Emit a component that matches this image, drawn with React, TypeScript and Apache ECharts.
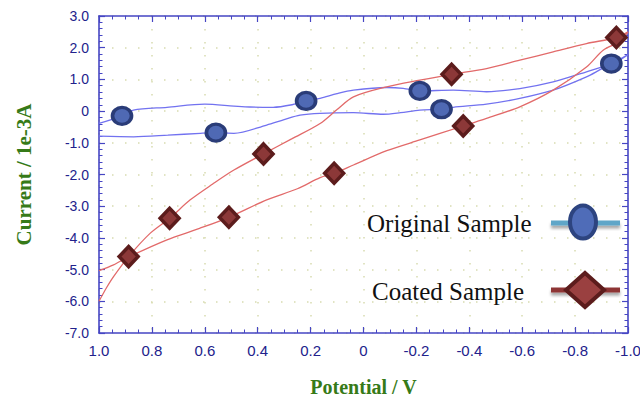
import React, { useEffect, useRef } from "react";
import * as echarts from "echarts";

// Potential (V) vs current (1e-3 A) — cyclic curves
const originalCurve: [number, number][] = [
  [1.0, -0.39], [0.913, -0.15], [0.87, 0.03], [0.743, 0.12], [0.6, 0.22], [0.49, 0.16],
  [0.43, 0.13], [0.342, 0.12], [0.27, 0.2], [0.217, 0.32], [0.164, 0.4], [0.1, 0.55],
  [0.038, 0.66], [-0.088, 0.745], [-0.15, 0.72], [-0.213, 0.64], [-0.339, 0.66],
  [-0.465, 0.61], [-0.591, 0.71], [-0.717, 0.92], [-0.843, 1.24], [-0.937, 1.5], [-1.0, 1.78],
  [-0.969, 1.61], [-0.9, 1.33], [-0.843, 1.08], [-0.717, 0.66], [-0.591, 0.4], [-0.465, 0.22],
  [-0.339, 0.12], [-0.295, 0.06], [-0.213, 0.03], [-0.14, -0.05], [-0.075, -0.1], [0.038, -0.05],
  [0.164, -0.07], [0.24, -0.13], [0.3, -0.27], [0.366, -0.44], [0.49, -0.7], [0.558, -0.68],
  [0.617, -0.7], [0.74, -0.76], [0.869, -0.81], [1.0, -0.79],
];

const coatedCurve: [number, number][] = [
  [1.0, -6.0], [0.97, -5.55], [0.945, -5.22], [0.888, -4.59], [0.806, -3.85], [0.733, -3.38],
  [0.655, -2.8], [0.57, -2.3], [0.49, -1.86], [0.378, -1.35], [0.27, -0.87], [0.164, -0.39],
  [0.1, 0.05], [0.038, 0.45], [-0.088, 0.765], [-0.213, 0.975], [-0.333, 1.16], [-0.465, 1.34],
  [-0.591, 1.605], [-0.717, 1.87], [-0.843, 2.13], [-0.956, 2.32], [-1.0, 2.5],
  [-0.97, 2.2], [-0.906, 1.92], [-0.843, 1.39], [-0.717, 0.66], [-0.591, 0.135], [-0.465, -0.23],
  [-0.377, -0.47], [-0.213, -0.91], [-0.088, -1.25], [0.038, -1.7], [0.111, -1.96], [0.164, -2.1],
  [0.25, -2.45], [0.366, -2.8], [0.509, -3.35], [0.62, -3.7], [0.743, -4.06], [0.888, -4.6],
  [0.945, -4.85], [1.0, -5.03],
];

const originalMarkers: [number, number][] = [
  [0.913, -0.15], [0.558, -0.68], [0.217, 0.32], [-0.213, 0.64], [-0.295, 0.06], [-0.937, 1.5],
];

const coatedMarkers: [number, number][] = [
  [0.888, -4.59], [0.733, -3.38], [0.509, -3.35], [0.378, -1.35], [0.111, -1.96],
  [-0.333, 1.16], [-0.377, -0.47], [-0.956, 2.32],
];

const seriesNames = ["Original Sample", "Coated Sample"];
const xName = "Potential / V";
const yName = "Current / 1e-3A";

const axisColor = "#4646c4";
const labelColor = "#22228c";
const nameColor = "#367a18";
const gridColor = "#d8dbb0";

const fmt = (v: number) => (Math.abs(v) < 1e-9 ? "0" : v.toFixed(1));

export default function App() {
  const ref = useRef<HTMLDivElement>(null);
  useEffect(() => {
    document.body.style.margin = "0";
    const chart = echarts.init(ref.current!, null, { renderer: "svg" });
    const tick = { show: true, inside: true, length: 6, lineStyle: { color: axisColor, width: 1.2 } };
    const minorX = { show: true, splitNumber: 4, length: 3.5, lineStyle: { color: axisColor, width: 1 } };
    const minorY = { show: true, splitNumber: 5, length: 3.5, lineStyle: { color: axisColor, width: 1 } };
    const line = { show: true, onZero: false, lineStyle: { color: axisColor, width: 1.6 } };
    const split = { show: true, lineStyle: { color: gridColor, type: [1.5, 11.5], width: 1.5 } };
    chart.setOption({
      animation: false,
      backgroundColor: "#ffffff",
      grid: { left: 99, right: 12, top: 16, bottom: 66, containLabel: false, outerBoundsMode: "none" },
      xAxis: [
        {
          type: "value", min: -1, max: 1, interval: 0.2, inverse: true, position: "bottom",
          axisLine: line, axisTick: tick, minorTick: minorX, splitLine: split,
          axisLabel: { color: labelColor, fontSize: 15, fontFamily: "Liberation Sans", margin: 10, formatter: fmt },
          name: xName, nameLocation: "middle", nameGap: 44,
          nameTextStyle: { color: nameColor, fontSize: 20, fontWeight: "bold", fontFamily: "Liberation Serif" },
        },
        {
          type: "value", min: -1, max: 1, interval: 0.2, inverse: true, position: "top",
          axisLine: line, axisTick: tick, minorTick: minorX, splitLine: { show: false },
          axisLabel: { show: false },
        },
      ],
      yAxis: [
        {
          type: "value", min: -7, max: 3, interval: 1, position: "left",
          axisLine: line, axisTick: tick, minorTick: minorY, splitLine: split,
          axisLabel: { color: labelColor, fontSize: 14, fontFamily: "Liberation Sans", margin: 10, formatter: fmt },
          name: yName, nameLocation: "middle", nameGap: 65, nameRotate: 90,
          nameTextStyle: { color: nameColor, fontSize: 21, fontWeight: "bold", fontFamily: "Liberation Serif" },
        },
        {
          type: "value", min: -7, max: 3, interval: 1, position: "right",
          axisLine: line, axisTick: tick, minorTick: minorY, splitLine: { show: false },
          axisLabel: { show: false },
        },
      ],
      series: [
        {
          name: seriesNames[0], type: "line", data: originalCurve, smooth: 0.3, showSymbol: false,
          lineStyle: { color: "#7272f0", width: 1.3 }, z: 2,
        },
        {
          name: seriesNames[1], type: "line", data: coatedCurve, smooth: 0.3, showSymbol: false,
          lineStyle: { color: "#e26a6a", width: 1.3 }, z: 2,
        },
        {
          name: seriesNames[0], type: "scatter", data: originalMarkers,
          symbol: "path://M0,10 A10,10 0 1,1 20,10 A10,10 0 1,1 0,10 Z",
          symbolSize: [19, 17], z: 3,
          itemStyle: { color: "#4f69b4", borderColor: "#2a3c78", borderWidth: 3.5, opacity: 1 },
        },
        {
          name: seriesNames[1], type: "scatter", data: coatedMarkers, symbol: "diamond",
          symbolSize: [19, 20], z: 3,
          itemStyle: { color: "#8c3838", borderColor: "#5c1c1c", borderWidth: 3.5, opacity: 1 },
        },
      ],
      graphic: [
        {
          type: "text", x: 367, y: 223, z: 100,
          style: { text: seriesNames[0], fontSize: 25, fontFamily: "Liberation Serif", fill: "#111111", align: "left", verticalAlign: "middle" },
        },
        {
          type: "rect", z: 100, shape: { x: 551, y: 220.5, width: 69, height: 5 },
          style: { fill: "#5fa6c8", shadowBlur: 3, shadowColor: "rgba(0,0,0,0.35)", shadowOffsetY: 3 },
        },
        {
          type: "ellipse", z: 101, shape: { cx: 583, cy: 222, rx: 13, ry: 16.5 },
          style: { fill: "#4f6cb8", stroke: "#2d4480", lineWidth: 4 },
        },
        {
          type: "text", x: 372, y: 291, z: 100,
          style: { text: seriesNames[1], fontSize: 25, fontFamily: "Liberation Serif", fill: "#111111", align: "left", verticalAlign: "middle" },
        },
        {
          type: "rect", z: 100, shape: { x: 551, y: 287.5, width: 69, height: 5 },
          style: { fill: "#8e3636", shadowBlur: 3, shadowColor: "rgba(0,0,0,0.35)", shadowOffsetY: 3 },
        },
        {
          type: "polygon", z: 101, shape: { points: [[585, 273], [604, 290], [585, 307], [566, 290]] },
          style: { fill: "#9a4040", stroke: "#5c1c1c", lineWidth: 4 },
        },
      ],
    });
    return () => chart.dispose();
  }, []);
  return <div ref={ref} style={{ width: 640, height: 399 }} />;
}
